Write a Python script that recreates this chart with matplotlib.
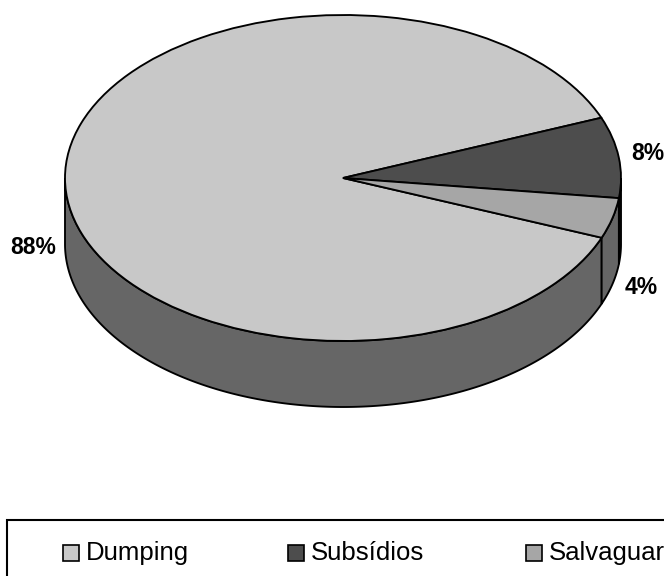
import numpy as np
import matplotlib
matplotlib.use("Agg")
import matplotlib.pyplot as plt
from matplotlib.patches import Rectangle

categories = ["Dumping", "Subsídios", "Salvaguardas"]
shares = [88, 8, 4]
percent_labels = ["88%", "8%", "4%"]

top_colors = ["#c8c8c8", "#4d4d4d", "#a6a6a6"]
wall_colors = ["#666666", "#333333", "#666666"]
edge = "black"

W, H = 664, 576
CX, CY, RX, RY, DEPTH = 343, 178, 278, 163, 66
START = -21.5
LW = 1.35

plt.rcParams["font.family"] = ["Liberation Sans", "DejaVu Sans"]
fig = plt.figure(figsize=(W / 100, H / 100), dpi=100)

# Unit circle in data space maps onto the tilted ellipse of the pie top
ax = fig.add_axes([0, 0, 1, 1])
xlim = (-CX / RX, (W - CX) / RX)
ylim = (-(H - CY) / RY, CY / RY)
depth = DEPTH / RY


def px(x, y):
    return (x - CX) / RX, (CY - y) / RY


# Slice boundaries, running clockwise from the start angle
sweeps = np.array(shares) / sum(shares) * 360
bounds = START - np.concatenate([[0], np.cumsum(sweeps)])

# Side wall: only the part of each slice facing the viewer
for i in range(len(shares)):
    hi, lo = bounds[i], bounds[i + 1]
    if hi < -180:
        hi, lo = hi + 360, lo + 360
    a = max(lo, -180.0)
    b = min(hi, 0.0)
    t = np.radians(np.linspace(a, b, 300))
    x = np.cos(t)
    y = np.sin(t)
    xs = np.concatenate([x, x[::-1]])
    ys = np.concatenate([y, y[::-1] - depth])
    ax.fill(xs, ys, facecolor=wall_colors[i], edgecolor=edge, linewidth=LW, zorder=1)

wedges, _ = ax.pie(
    shares,
    colors=top_colors,
    startangle=START,
    counterclock=False,
    radius=1,
    wedgeprops={"edgecolor": edge, "linewidth": LW, "zorder": 2},
)
ax.set_aspect("auto")
ax.set_xlim(*xlim)
ax.set_ylim(*ylim)
ax.axis("off")

label_pos = [(33, 248), (648, 154), (641, 288)]
for text, (lx, ly) in zip(percent_labels, label_pos):
    ax.text(*px(lx, ly), text, fontsize=16.5, fontweight="bold",
            ha="center", va="center", color="black", zorder=5)

# Legend frame runs past the right and bottom of the canvas
x0, y0 = px(7, 520)
x1, y1 = px(W + 20, H + 20)
ax.add_patch(Rectangle((x0, y1), x1 - x0, y0 - y1, facecolor="white",
                       edgecolor=edge, linewidth=1.5, zorder=3))

legend_x = [63, 288, 526]
for name, color, lx in zip(categories, top_colors, legend_x):
    x0, y0 = px(lx, 561)
    x1, y1 = px(lx + 16, 545)
    ax.add_patch(Rectangle((x0, y0), x1 - x0, y1 - y0, facecolor=color,
                           edgecolor=edge, linewidth=1.2, zorder=4))
    ax.text(*px(lx + 23, 553), name, fontsize=18.5, ha="left", va="center",
            color="black", zorder=4, clip_on=True)

fig.savefig("out.png", dpi=100)
